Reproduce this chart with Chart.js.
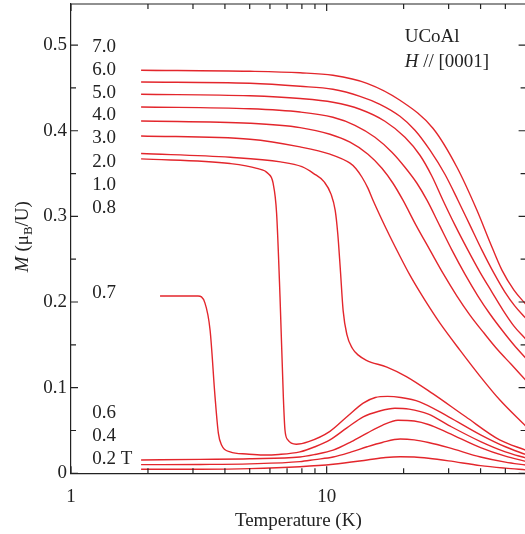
<!DOCTYPE html>
<html>
<head>
<meta charset="utf-8">
<script src="https://cdn.jsdelivr.net/npm/chart.js@4.4.1/dist/chart.umd.min.js"></script>
<style>
  html, body { margin: 0; padding: 0; background: #fff; overflow: hidden; }
  #wrap { width: 527px; height: 534px; }
</style>
</head>
<body>
<div id="wrap"><canvas id="chart"></canvas></div>
<script>
// temperature (K) / magnetization (muB/U) for each field
const t70 = [1.88, 5.01, 7.87, 10.58, 14.38, 19.35, 26.04, 32.33, 38.71, 43.52, 48.48, 54.03, 60];
const m70 = [0.4706, 0.4694, 0.4677, 0.4648, 0.4554, 0.4356, 0.4029, 0.3574, 0.3072, 0.2699, 0.2372, 0.2139, 0.1976];
const t60 = [1.88, 5.01, 7.87, 10.58, 13.5, 16.16, 19.35, 22.15, 25.36, 29.01, 32.62, 36.34, 40.49, 45.11, 49.81, 54.51, 60];
const m60 = [0.4569, 0.4554, 0.4519, 0.4484, 0.4402, 0.4309, 0.4169, 0.4006, 0.3773, 0.3492, 0.3189, 0.2898, 0.2606, 0.2337, 0.2116, 0.1952, 0.1812];
const t50 = [1.88, 5.01, 7.87, 10.58, 13.5, 16.9, 20.24, 23.17, 25.81, 28.5, 31.76, 35.69, 39.77, 44.31, 48.92, 54.03, 60];
const m50 = [0.4426, 0.4408, 0.4376, 0.4332, 0.4251, 0.4111, 0.3924, 0.3714, 0.3469, 0.3189, 0.2898, 0.2606, 0.2349, 0.2116, 0.1906, 0.1719, 0.1568];
const t40 = [1.88, 5.01, 7.87, 10.58, 12.9, 15.45, 18.0, 20.24, 22.55, 24.68, 27.74, 30.91, 34.74, 39.06, 43.52, 48.48, 54.03, 60];
const m40 = [0.4278, 0.4257, 0.4219, 0.4157, 0.4064, 0.3924, 0.3749, 0.3574, 0.3387, 0.3189, 0.2886, 0.2606, 0.2326, 0.2070, 0.1860, 0.1673, 0.1498, 0.1346];
const t30 = [1.88, 5.01, 7.87, 10.3, 12.34, 14.51, 16.45, 18.17, 19.88, 22.35, 25.36, 28.5, 32.33, 36.34, 41.23, 46.76, 52.58, 60];
const m30 = [0.4114, 0.4088, 0.4037, 0.3959, 0.3866, 0.3726, 0.3562, 0.3387, 0.3189, 0.2898, 0.2606, 0.2337, 0.2070, 0.1848, 0.1638, 0.1439, 0.1276, 0.1089];
const t20 = [1.88, 5.01, 7.87, 10.3, 12.34, 13.0, 13.75, 14.5, 15.18, 17.06, 19.35, 21.17, 23.17, 25.36, 27.74, 33.21, 39.77, 47.61, 60];
const m20 = [0.3939, 0.3901, 0.3811, 0.3726, 0.3621, 0.3560, 0.3457, 0.3330, 0.3189, 0.2862, 0.2535, 0.2314, 0.2115, 0.1928, 0.1753, 0.1438, 0.1135, 0.0855, 0.0552];
const t10 = [1.88, 4.2, 6.6, 8.0, 8.9, 9.8, 10.4, 10.8, 11.05, 11.3, 11.6, 12.0, 12.6, 13.3, 14.3, 17.2, 20.5, 26, 35, 47.5, 60];
const m10 = [0.3734, 0.369, 0.3636, 0.358, 0.350, 0.340, 0.326, 0.307, 0.28, 0.24, 0.19, 0.162, 0.146, 0.138, 0.132, 0.124, 0.113, 0.093, 0.066, 0.039, 0.027];
const t08 = [1.88, 4.19, 5.33, 5.9, 6.17, 6.37, 6.57, 6.77, 6.87, 7.05, 7.6, 8.5, 10.3, 12, 13.9, 15.5, 17.3, 19.5, 23.1, 30, 40, 50, 60];
const m08 = [0.3671, 0.3617, 0.356, 0.35, 0.339, 0.304, 0.206, 0.089, 0.0505, 0.039, 0.034, 0.037, 0.049, 0.066, 0.082, 0.0885, 0.0898, 0.0885, 0.0835, 0.066, 0.045, 0.031, 0.022];
const t07 = [2.23, 3.14, 3.34, 3.5, 3.66, 3.77, 3.88, 4.19, 4.86, 5.64, 6.5, 7.86, 9, 10.3, 12, 13.9, 16, 18.5, 21, 25, 30, 40, 50, 60];
const m07 = [0.207, 0.207, 0.199, 0.167, 0.089, 0.047, 0.033, 0.025, 0.0225, 0.0214, 0.022, 0.025, 0.031, 0.039, 0.053, 0.066, 0.0725, 0.076, 0.075, 0.069, 0.056, 0.037, 0.025, 0.018];
const t06 = [1.88, 3.2, 5, 7.86, 9, 10.6, 12.5, 14.4, 16.5, 19, 22, 25, 30, 40, 50, 60];
const m06 = [0.0156, 0.0163, 0.017, 0.019, 0.022, 0.027, 0.037, 0.047, 0.056, 0.062, 0.061, 0.057, 0.047, 0.03, 0.02, 0.014];
const t04 = [1.88, 3.2, 5, 7.86, 9, 10.6, 12.5, 14.4, 16.5, 19.4, 22, 25, 30, 40, 50, 60];
const m04 = [0.0101, 0.0103, 0.011, 0.0136, 0.016, 0.019, 0.025, 0.031, 0.036, 0.040, 0.039, 0.036, 0.030, 0.019, 0.013, 0.0097];
const t02 = [1.88, 3.2, 5, 7.86, 10.6, 14.4, 17, 19.4, 22, 25, 30, 40, 50, 60];
const m02 = [0.0047, 0.0048, 0.0055, 0.0077, 0.0105, 0.0155, 0.0185, 0.0194, 0.019, 0.0175, 0.0145, 0.009, 0.006, 0.004];

// field labels along the left edge
const fieldText = ['7.0', '6.0', '5.0', '4.0', '3.0', '2.0', '1.0', '0.8', '0.7', '0.6', '0.4', '0.2 T'];
const fieldTextM = [0.498, 0.4706, 0.4437, 0.418, 0.391, 0.3633, 0.3364, 0.3096, 0.2104, 0.0704, 0.0435, 0.0167];
const fieldTextT = 1.21;

const xTickLabels = [1, 10];
const xMinorTicks = [2, 3, 4, 5, 6, 7, 8, 9, 20, 30, 40, 50];
const yTickLabels = [0, 0.1, 0.2, 0.3, 0.4, 0.5];
const yMinorTicks = [0.05, 0.15, 0.25, 0.35, 0.45];

const curves = [
    ['7.0 T', t70, m70], ['6.0 T', t60, m60], ['5.0 T', t50, m50], ['4.0 T', t40, m40],
    ['3.0 T', t30, m30], ['2.0 T', t20, m20], ['1.0 T', t10, m10], ['0.8 T', t08, m08],
    ['0.7 T', t07, m07], ['0.6 T', t06, m06], ['0.4 T', t04, m04], ['0.2 T', t02, m02],
];

const RED = '#e3262c';
const INK = '#222';
const FONT = 'Liberation Serif';

const datasets = curves.map(([label, ts, ms]) => ({
    label: label,
    data: ts.map((t, i) => ({ x: t, y: ms[i] })),
    borderColor: RED,
    borderWidth: 1.4,
    pointRadius: 0,
    fill: false,
    cubicInterpolationMode: 'monotone',
}));

const framePlugin = {
    id: 'frame',
    afterDraw(chart) {
        const ctx = chart.ctx;
        const area = chart.chartArea;
        const xs = chart.scales.x;
        const ys = chart.scales.y;
        ctx.save();
        ctx.strokeStyle = INK;
        ctx.lineWidth = 1.2;
        ctx.beginPath();
        ctx.moveTo(area.left, area.top);
        ctx.lineTo(area.right, area.top);
        ctx.lineTo(area.right, area.bottom);
        // x ticks, bottom and top, pointing inward
        xTickLabels.concat(xMinorTicks).forEach(v => {
            const px = xs.getPixelForValue(v);
            const len = xTickLabels.includes(v) ? 7 : 5;
            ctx.moveTo(px, area.bottom);
            ctx.lineTo(px, area.bottom - len);
            ctx.moveTo(px, area.top);
            ctx.lineTo(px, area.top + len);
        });
        yTickLabels.concat(yMinorTicks).forEach(v => {
            const py = ys.getPixelForValue(v);
            const len = yTickLabels.includes(v) ? 7 : 5;
            ctx.moveTo(area.left, py);
            ctx.lineTo(area.left + len, py);
            ctx.moveTo(area.right, py);
            ctx.lineTo(area.right - len, py);
        });
        ctx.stroke();

        // field labels
        ctx.fillStyle = INK;
        ctx.font = '19px "' + FONT + '"';
        ctx.textAlign = 'left';
        ctx.textBaseline = 'middle';
        const lx = xs.getPixelForValue(fieldTextT);
        fieldText.forEach((s, i) => ctx.fillText(s, lx, ys.getPixelForValue(fieldTextM[i])));

        // sample / field direction
        const sx = xs.getPixelForValue(20.2);
        ctx.fillText('UCoAl', sx, ys.getPixelForValue(0.509));
        const hy = ys.getPixelForValue(0.48);
        ctx.font = 'italic 19px "' + FONT + '"';
        ctx.fillText('H', sx, hy);
        const hw = ctx.measureText('H').width;
        ctx.font = '19px "' + FONT + '"';
        ctx.fillText(' // [0001]', sx + hw, hy);

        // y axis title: M (muB/U), rotated
        ctx.translate(28, (area.top + area.bottom) / 2 - 2);
        ctx.rotate(-Math.PI / 2);
        ctx.textBaseline = 'alphabetic';
        const parts = [
            ['italic 19px "' + FONT + '"', 'M', 0],
            ['19px "' + FONT + '"', ' (\u03bc', 0],
            ['13px "' + FONT + '"', 'B', 4],
            ['19px "' + FONT + '"', '/U)', 0],
        ];
        let total = 0;
        parts.forEach(([f, s]) => { ctx.font = f; total += ctx.measureText(s).width; });
        let cx = -total / 2;
        parts.forEach(([f, s, dy]) => {
            ctx.font = f;
            ctx.fillText(s, cx, dy);
            cx += ctx.measureText(s).width;
        });
        ctx.restore();
    }
};

new Chart(document.getElementById('chart'), {
    type: 'line',
    data: { datasets: datasets },
    options: {
        responsive: true,
        maintainAspectRatio: false,
        animation: false,
        layout: { padding: { top: 4, right: 1.4, left: 0, bottom: 0 } },
        plugins: {
            legend: { display: false },
            tooltip: { enabled: false },
        },
        scales: {
            x: {
                type: 'logarithmic',
                min: 1,
                max: 60,
                afterBuildTicks: (scale) => { scale.ticks = xTickLabels.map(v => ({ value: v })); },
                afterFit: (scale) => {
                    scale.height = 60.7;
                    scale.paddingLeft = 0;
                    scale.paddingRight = 0;
                },
                grid: { display: true, drawOnChartArea: false, drawTicks: false },
                border: { display: true, color: INK, width: 1.2 },
                ticks: {
                    color: INK,
                    font: { family: FONT, size: 19 },
                    padding: 12,
                    maxRotation: 0,
                    autoSkip: false,
                    callback: (v) => String(v),
                },
                title: {
                    display: true,
                    text: 'Temperature (K)',
                    color: INK,
                    font: { family: FONT, size: 19 },
                    padding: { top: 0, bottom: 2 },
                },
            },
            y: {
                type: 'linear',
                min: 0,
                max: 0.548,
                afterBuildTicks: (scale) => { scale.ticks = yTickLabels.map(v => ({ value: v })); },
                afterFit: (scale) => {
                    scale.width = 71;
                    scale.paddingTop = 0;
                    scale.paddingBottom = 0;
                },
                grid: { display: true, drawOnChartArea: false, drawTicks: false },
                border: { display: true, color: INK, width: 1.2 },
                ticks: {
                    color: INK,
                    font: { family: FONT, size: 19 },
                    padding: 4,
                    callback: (v) => v === 0 ? '0' : v.toFixed(1),
                },
            },
        },
    },
    plugins: [framePlugin],
});
</script>
</body>
</html>
